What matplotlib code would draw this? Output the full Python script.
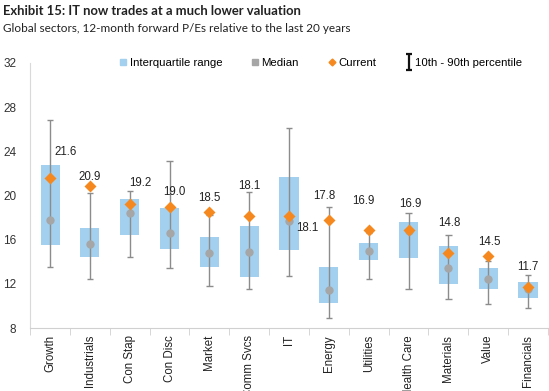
import matplotlib
matplotlib.use('Agg')
import matplotlib.pyplot as plt
from matplotlib.lines import Line2D
from matplotlib.path import Path
import numpy as np

sectors = ['Growth', 'Industrials', 'Con Stap', 'Con Disc', 'Market', 'Comm Svcs', 'IT',
           'Energy', 'Utilities', 'Health Care', 'Materials', 'Value', 'Financials']
p10 = [13.5, 12.4, 14.4, 13.4, 11.8, 11.5, 12.7, 8.9, 12.4, 11.5, 10.6, 10.2, 9.8]
p25 = [15.5, 14.4, 16.4, 15.2, 13.5, 12.6, 15.1, 10.3, 14.2, 14.3, 12.0, 11.5, 10.7]
median = [17.8, 15.6, 18.4, 16.6, 14.8, 14.9, 17.7, 11.4, 15.0, 16.8, 13.4, 12.4, 11.5]
p75 = [22.8, 17.1, 19.7, 18.9, 16.2, 17.2, 21.7, 13.5, 15.7, 17.6, 15.4, 13.4, 12.2]
p90 = [26.8, 20.2, 20.4, 23.1, 18.2, 20.3, 26.1, 19.0, 16.6, 18.4, 16.4, 14.1, 12.8]
current = [21.6, 20.9, 19.2, 19.0, 18.5, 18.1, 18.1, 17.8, 16.9, 16.9, 14.8, 14.5, 11.7]
yticks = [8, 12, 16, 20, 24, 28, 32]

# label offsets in pixels (dx, dy) from the current marker
label_offsets = [(16, 26), (0, 9), (11, 21), (5, 15), (0, 14), (0, 30), (18, -12),
                 (-5, 24), (-5, 29), (2, 26), (1, 30), (1, 14), (0, 20)]

blue = '#a3d0ee'
grey = '#a6a6a6'
orange = '#f5891f'
arial = 'Liberation Sans'

fig = plt.figure(figsize=(5.49, 3.91), dpi=100)
ax = fig.add_axes([0.055, 0.161, 0.943, 0.678])

x = np.arange(len(sectors))
p25 = np.array(p25)
p75 = np.array(p75)
ax.bar(x, p75 - p25, bottom=p25, width=0.48, color=blue, zorder=1)
ax.vlines(x, p10, p90, color='#8c8c8c', lw=1.0, zorder=2)
ax.hlines(p10, x - 0.08, x + 0.08, color='#8c8c8c', lw=1.0, zorder=2)
ax.hlines(p90, x - 0.08, x + 0.08, color='#8c8c8c', lw=1.0, zorder=2)
ax.plot(x, median, 'o', color=grey, ms=6, mec='none', zorder=3)
ax.plot(x, current, 'D', color=orange, ms=5.8, mec='none', zorder=4)

for i, v in enumerate(current):
    ax.annotate('%.1f' % v, (x[i], v), xytext=label_offsets[i], textcoords='offset pixels',
                ha='center', va='center', fontsize=8.3, family=arial, color='#222222')

ax.set_xlim(-0.5, len(sectors) - 0.5)
ax.set_ylim(8, 32)
ax.set_yticks(yticks)
ax.set_yticklabels([str(t) for t in yticks], family=arial)
ax.tick_params(axis='y', length=0, labelsize=8.5, pad=10, labelcolor='#333333')
ax.set_xticks(x)
ax.set_xticklabels(sectors, rotation=90, fontsize=8.3, family=arial, color='#222222')
ax.tick_params(axis='x', length=0, pad=5)
ax.set_xticks(np.arange(len(sectors) + 1) - 0.5, minor=True)
ax.tick_params(axis='x', which='minor', length=5, color='#d0d0d0')
for s in ['top', 'right']:
    ax.spines[s].set_visible(False)
ax.spines['left'].set_color('#d9d9d9')
ax.spines['bottom'].set_color('#d0d0d0')

# errorbar-like "I" symbol for the legend
ibar = Path([(-0.4, 1), (0.4, 1), (0, 1), (0, -1), (-0.4, -1), (0.4, -1)],
            [Path.MOVETO, Path.LINETO, Path.MOVETO, Path.LINETO, Path.MOVETO, Path.LINETO])
handles = [
    Line2D([], [], ls='none', marker='s', color=blue, ms=4.5),
    Line2D([], [], ls='none', marker='s', color=grey, ms=4),
    Line2D([], [], ls='none', marker='D', color=orange, ms=3.5),
    Line2D([], [], ls='none', marker=ibar, color='#111111', mfc='none', ms=11, mew=1.6),
]
labels = ['Interquartile range', 'Median', 'Current', '10th - 90th percentile']
ax.legend(handles, labels, ncol=4, loc='center', bbox_to_anchor=(0.585, 0.839),
          bbox_transform=fig.transFigure, frameon=False, handlelength=0.6,
          handletextpad=0.25, columnspacing=2.6, prop={'family': arial, 'size': 8.2})

fig.text(0.006, 0.972, 'Exhibit 15: IT now trades at a much lower valuation', fontsize=9.4,
         fontweight='bold', family='Lato', color='#222222', va='center')
fig.text(0.006, 0.928, 'Global sectors, 12-month forward P/Es relative to the last 20 years',
         fontsize=8.5, family='Lato', color='#222222', va='center')

fig.savefig('out.png', dpi=100)
